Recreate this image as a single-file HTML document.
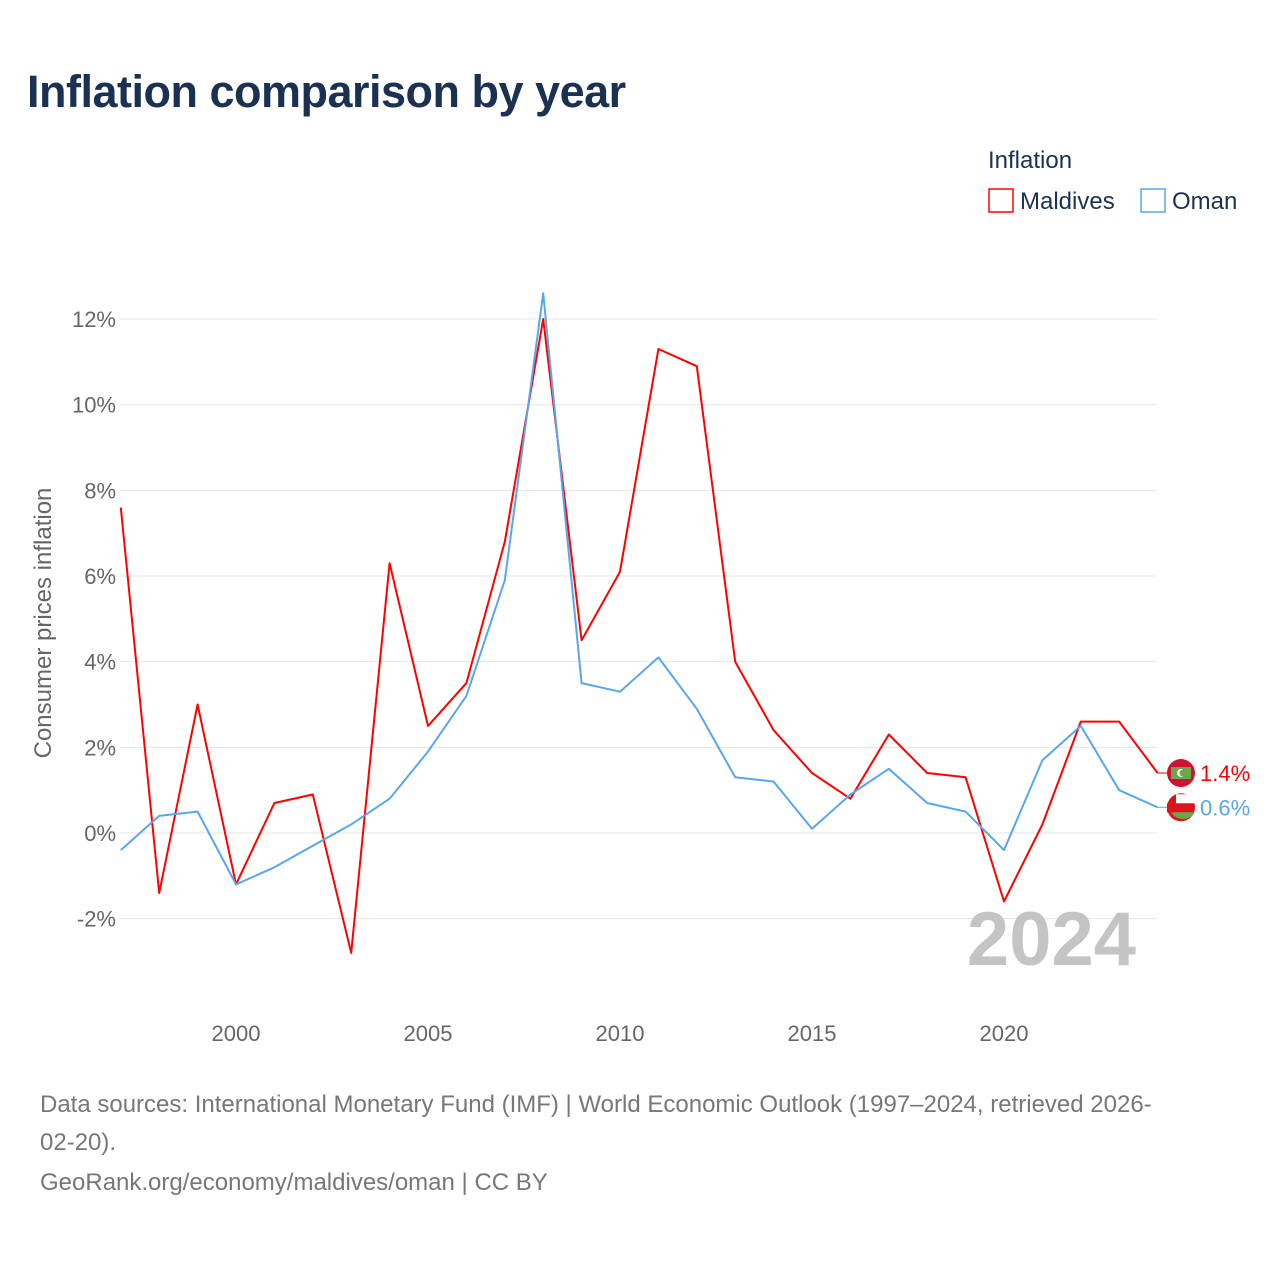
<!DOCTYPE html>
<html><head><meta charset="utf-8">
<style>
html,body{margin:0;padding:0;background:#fff;}
body{width:1280px;height:1280px;position:relative;font-family:"Liberation Sans",sans-serif;overflow:hidden;}
#title{position:absolute;left:27px;top:66px;font-size:45px;font-weight:bold;color:#1b3152;margin:0;letter-spacing:-0.5px;}
.src{position:absolute;left:40px;font-size:24px;color:#777;line-height:38px;}
</style></head>
<body>
<h1 id="title">Inflation comparison by year</h1>
<svg id="chart" width="1280" height="1280" style="position:absolute;left:0;top:0" xmlns="http://www.w3.org/2000/svg"></svg>
<div class="src" style="top:1086px;width:1220px;white-space:nowrap">Data sources: International Monetary Fund (IMF) | World Economic Outlook (1997–2024, retrieved 2026-<br>02-20).</div>
<div class="src" style="top:1164px">GeoRank.org/economy/maldives/oman | CC BY</div>
<script>
const years = [1997,1998,1999,2000,2001,2002,2003,2004,2005,2006,2007,2008,2009,2010,2011,2012,2013,2014,2015,2016,2017,2018,2019,2020,2021,2022,2023,2024];
const maldives = [7.6,-1.4,3.0,-1.2,0.7,0.9,-2.8,6.3,2.5,3.5,6.8,12.0,4.5,6.1,11.3,10.9,4.0,2.4,1.4,0.8,2.3,1.4,1.3,-1.6,0.2,2.6,2.6,1.4];
const oman = [-0.4,0.4,0.5,-1.2,-0.8,-0.3,0.2,0.8,1.9,3.2,5.9,12.6,3.5,3.3,4.1,2.9,1.3,1.2,0.1,0.9,1.5,0.7,0.5,-0.4,1.7,2.5,1.0,0.6];
const yTicks = [-2,0,2,4,6,8,10,12];
const xTicks = [2000,2005,2010,2015,2020];

const NS="http://www.w3.org/2000/svg";
const svg=document.getElementById('chart');
const X=y=>120.8+(y-1997)*38.4;
const Y=v=>833-v*42.83;
function mk(tag,attrs,parent){const e=document.createElementNS(NS,tag);for(const k in attrs)e.setAttribute(k,attrs[k]);(parent||svg).appendChild(e);return e;}

yTicks.forEach(t=>{
  const g=mk('line',{x1:120,x2:1157,y1:Y(t),y2:Y(t),stroke:'#e6e6e6','stroke-width':1});
  
  
  const l=mk('text',{x:116,y:Y(t)+8,'text-anchor':'end','font-size':22,fill:'#666','font-family':'Liberation Sans, sans-serif'});
  l.textContent=t+'%';
  
  
});
xTicks.forEach(t=>{
  const l=mk('text',{x:X(t),y:1041,'text-anchor':'middle','font-size':22,fill:'#666','font-family':'Liberation Sans, sans-serif'});
  l.textContent=t;
  
  
});
const yt=mk('text',{transform:'translate(51,623) rotate(-90)','text-anchor':'middle','font-size':24,fill:'#666','font-family':'Liberation Sans, sans-serif'});
yt.textContent='Consumer prices inflation';



const yr=mk('text',{x:1136,y:965,'text-anchor':'end','font-size':76,'font-weight':'bold',fill:'#c4c4c4','font-family':'Liberation Sans, sans-serif'});
yr.textContent='2024';



function series(vals,color,name){
  const d=vals.map((v,i)=>(i?'L':'M')+X(years[i]).toFixed(1)+' '+Y(v).toFixed(1)).join(' ');
  const p=mk('path',{d:d,fill:'none',stroke:color,'stroke-width':2,'stroke-linejoin':'round'});
  
  
  const last=vals[vals.length-1];
  const c=mk('line',{x1:X(2024),y1:Y(last),x2:1168,y2:Y(last),stroke:color,'stroke-width':1});
  
  
  const t=mk('text',{x:1200,y:Y(last)+8,'font-size':22,fill:color,'font-family':'Liberation Sans, sans-serif'});
  t.textContent=last.toFixed(1)+'%';
  
  
  return Y(last);
}
const ym=series(maldives,'#ff0000','maldives');
const yo=series(oman,'#5aa6ea','oman');

const fm=mk('g',{});


mk('circle',{cx:1181,cy:ym,r:14,fill:'#d21034'},fm);
mk('rect',{x:1171,y:ym-6,width:20,height:12,fill:'#6aa84f'},fm);
mk('circle',{cx:1181,cy:ym,r:4,fill:'#fff'},fm);
mk('circle',{cx:1183,cy:ym,r:3.5,fill:'#6aa84f'},fm);
const fo=mk('g',{});


mk('circle',{cx:1181,cy:yo,r:14,fill:'#db161b'},fo);
mk('path',{d:`M${1171} ${yo+5} L1195 ${yo+5} A14 14 0 0 1 1171 ${yo+5}Z`,fill:'#6aa84f'},fo);
mk('path',{d:`M1176 ${yo-13} L1195 ${yo-13} L1195 ${yo-4} L1176 ${yo-4}Z`,fill:'#fff'},fo);
mk('rect',{x:1167,y:yo-4,width:9,height:9,fill:'#db161b'},fo);

const lg=mk('g',{});


const lt=mk('text',{x:988,y:168,'font-size':24,fill:'#1b3152','font-family':'Liberation Sans, sans-serif'},lg);
lt.textContent='Inflation';
[['Maldives','#ff0000',989],['Oman','#5aa6ea',1141]].forEach(([n,c,x])=>{
  const r=mk('rect',{x:x,y:189,width:24,height:23,fill:'#fff',stroke:c,'stroke-width':1.5},lg);
  
  
  const t=mk('text',{x:x+31,y:209,'font-size':24,fill:'#1b3152','font-family':'Liberation Sans, sans-serif'},lg);
  t.textContent=n;
  
  
});
</script>
</body></html>
